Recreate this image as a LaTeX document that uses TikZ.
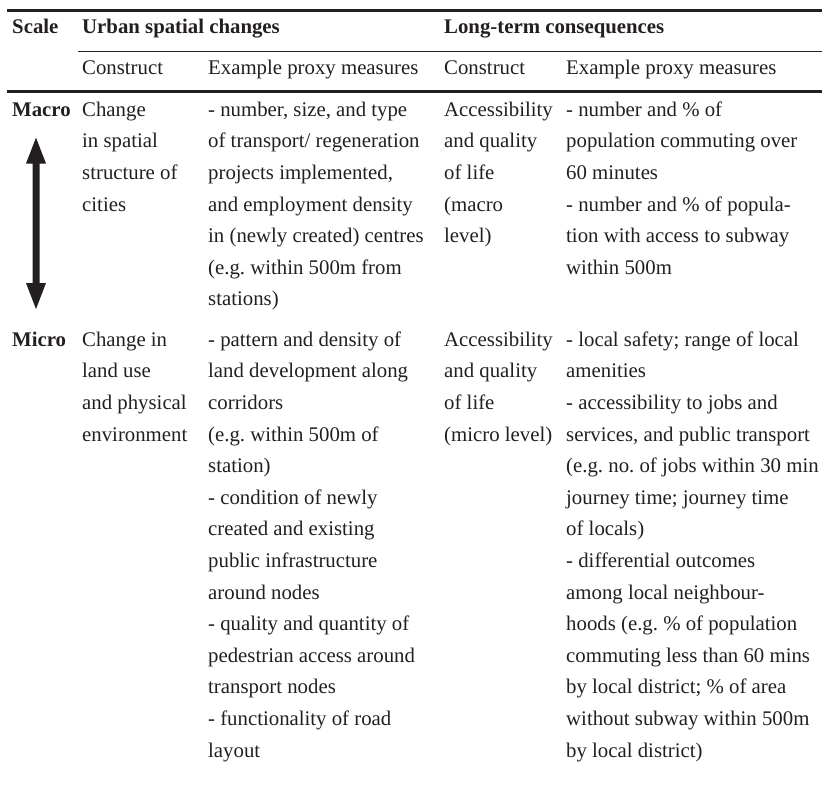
\documentclass[tikz,border=0pt]{standalone}
\usepackage{fontspec}
\setmainfont{Liberation Serif}
\definecolor{ink}{HTML}{231F20}
\newcommand{\mystr}{\rule{0pt}{20pt}}
\frenchspacing
\tikzset{
  cell/.style={anchor=north west, inner sep=0pt, align=left, text=ink,
    font=\fontsize{20.8}{31.6}\selectfont\frenchspacing},
  headcell/.style={cell, font=\fontsize{20.8}{31.6}\selectfont\bfseries},
  thickrule/.style={draw=ink, line width=2.6pt},
  thinrule/.style={draw=ink, line width=1pt}
}
\begin{document}
\begin{tikzpicture}[x=1pt,y=-1pt]
\useasboundingbox (0,0) rectangle (822,785);
% rules
\draw[thickrule] (7,10.7) -- (822,10.7);
\draw[thinrule] (78,51.7) -- (822,51.7);
\draw[thickrule] (7,91.7) -- (822,91.7);
% header row 1 (baseline 33)
\node[headcell] (hscale) at (12,13) {\mystr Scale};
\node[headcell] (hurban) at (82,13) {\mystr Urban spatial changes};
\node[headcell] (hlong) at (444,13) {\mystr Long-term consequences};
% header row 2 (baseline 74)
\node[cell] (hc1) at (82,54) {\mystr Construct};
\node[cell] (he1) at (208,54) {\mystr Example proxy measures};
\node[cell] (hc2) at (444,54) {\mystr Construct};
\node[cell] (he2) at (566,54) {\mystr Example proxy measures};
% macro row (baseline 116)
\node[headcell] (macro) at (12,96) {\mystr Macro};
\node[cell] (mac1) at (82,96) {\mystr Change\\in spatial\\structure of\\cities};
\node[cell] (mae1) at (208,96) {\mystr - number, size, and type\\of transport/ regeneration\\projects implemented,\\and employment density\\in (newly created) centres\\(e.g. within 500m from\\stations)};
\node[cell] (mac2) at (444,96) {\mystr Accessibility\\and quality\\of life\\(macro\\level)};
\node[cell] (mae2) at (566,96) {\mystr - number and \% of\\population commuting over\\60 minutes\\- number and \% of popula-\\tion with access to subway\\within 500m};
% micro row (baseline 346)
\node[headcell] (micro) at (12,326) {\mystr Micro};
\node[cell] (mic1) at (82,326) {\mystr Change in\\land use\\and physical\\environment};
\node[cell] (mie1) at (208,326) {\mystr - pattern and density of\\land development along\\corridors\\(e.g. within 500m of\\station)\\- condition of newly\\created and existing\\public infrastructure\\around nodes\\- quality and quantity of\\pedestrian access around\\transport nodes\\- functionality of road\\layout};
\node[cell] (mic2) at (444,326) {\mystr Accessibility\\and quality\\of life\\(micro level)};
\node[cell] (mie2) at (566,326) {\mystr - local safety; range of local\\amenities\\- accessibility to jobs and\\services, and public transport\\(e.g. no. of jobs within 30 min\\journey time; journey time\\of locals)\\- differential outcomes\\among local neighbour-\\hoods (e.g. \% of population\\commuting less than 60 mins\\by local district; \% of area\\without subway within 500m\\by local district)};
% scale arrow
\fill[ink] (36,137.7) -- (46,163.5) -- (39.5,163.5) -- (39.5,283) -- (46,283)
  -- (36,309) -- (26,283) -- (32.5,283) -- (32.5,163.5) -- (26,163.5) -- cycle;
\end{tikzpicture}
\end{document}
